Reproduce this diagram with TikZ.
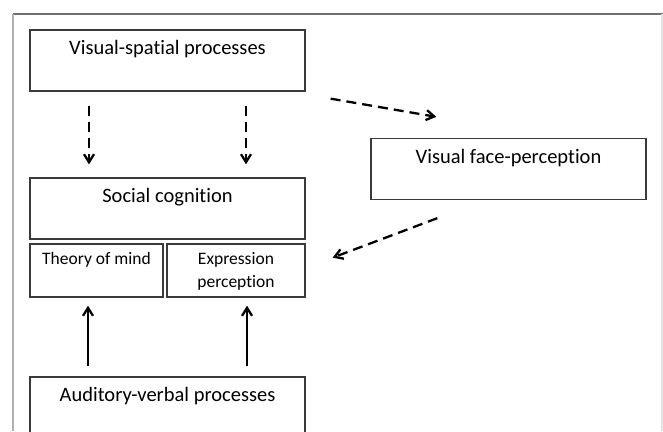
\documentclass[tikz,border=0pt]{standalone}
\usepackage{fontspec}
\setmainfont[Ligatures=NoCommon]{Carlito}
\usetikzlibrary{arrows.meta}
\definecolor{frametop}{HTML}{707070}
\definecolor{frameleft}{HTML}{B0B0B0}
\definecolor{frameright}{HTML}{E4E4E4}
\definecolor{boxline}{HTML}{3A3A3A}
\tikzset{
  box/.style={draw=boxline, line width=1.3pt, rectangle, inner sep=0pt},
  biglbl/.style={inner sep=0pt, font=\fontsize{20.5}{24}\selectfont},
  smalllbl/.style={inner sep=0pt, align=center, font=\fontsize{17.5}{23}\selectfont},
  dasharrow/.style={line width=2.3pt, dash pattern=on 10pt off 6pt, -{Straight Barb[length=8pt,width=10pt,line width=2.3pt]}},
  solidarrow/.style={line width=2.3pt, -{Straight Barb[length=8pt,width=10pt,line width=2.3pt]}}
}
\begin{document}
\begin{tikzpicture}[x=1pt,y=-1pt]
\useasboundingbox (0,0) rectangle (663,431);
% frame
\draw[frametop, line width=1.5pt] (13,14) -- (663,14);
\draw[frameleft, line width=1.5pt] (13,14) -- (13,431);
\draw[frameright, line width=1.5pt] (662,14) -- (662,431);
% boxes
\node[box, minimum width=275pt, minimum height=61pt] (vs) at (167.5,60.5) {};
\node[biglbl] (vslbl) at (167.5,49) {Visual-spatial processes};
\node[box, minimum width=275pt, minimum height=61pt] (sc) at (167.5,208.5) {};
\node[biglbl] (sclbl) at (167.5,197) {Social cognition};
\node[box, minimum width=133pt, minimum height=53pt] (tom) at (96.5,270.5) {};
\node[smalllbl] (tomlbl) at (96.5,260) {Theory of mind};
\node[box, minimum width=138pt, minimum height=53pt] (expr) at (236,270.5) {};
\node[smalllbl] (exprlbl) at (236,271.5) {Expression\\perception};
\node[box, minimum width=275pt, minimum height=61pt] (face) at (508.5,169) {};
\node[biglbl] (facelbl) at (508.5,158) {Visual face-perception};
\node[box, minimum width=275pt, minimum height=61pt] (aud) at (167.5,407.5) {};
\node[biglbl] (audlbl) at (167.5,396) {Auditory-verbal processes};
% dashed arrows
\draw[dasharrow] ([xshift=-78.5pt,yshift=-14pt]vs.south) -- ([xshift=-78.5pt,yshift=13pt]sc.north);
\draw[dasharrow] ([xshift=78.5pt,yshift=-14pt]vs.south) -- ([xshift=78.5pt,yshift=13pt]sc.north);
\draw[dasharrow] ([xshift=25pt,yshift=-7pt]vs.south east) -- ([xshift=66pt,yshift=21pt]face.north west);
\draw[dasharrow] ([xshift=67pt,yshift=-18pt]face.south west) -- ([xshift=27pt,yshift=-18pt]sc.south east);
% solid arrows
\draw[solidarrow] ([xshift=-79.5pt,yshift=10pt]aud.north) -- ([xshift=-8.5pt,yshift=-8pt]tom.south);
\draw[solidarrow] ([xshift=79.5pt,yshift=10pt]aud.north) -- ([xshift=11pt,yshift=-8pt]expr.south);
\end{tikzpicture}
\end{document}
